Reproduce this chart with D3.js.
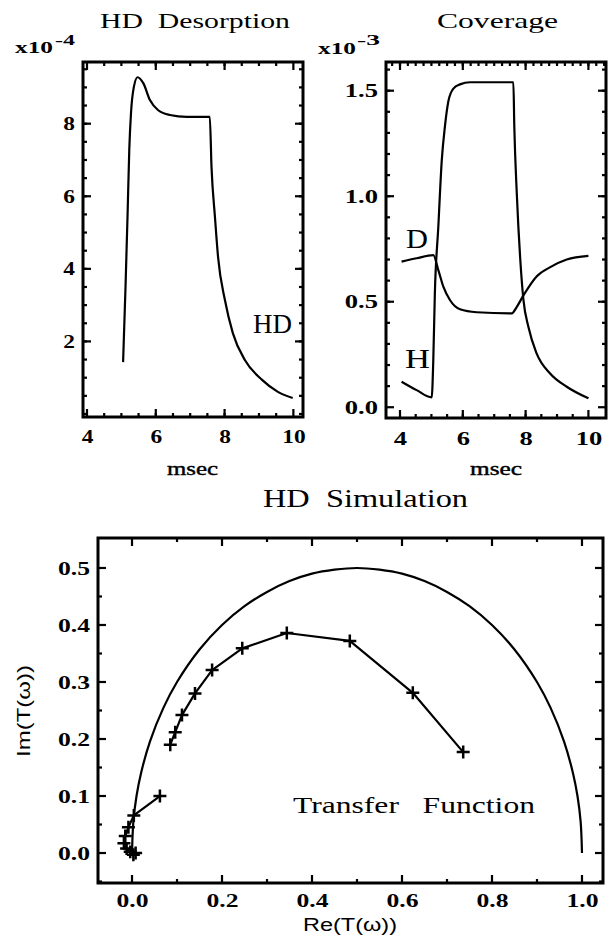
<!DOCTYPE html>
<html>
<head>
<meta charset="utf-8">
<script src="https://cdn.jsdelivr.net/npm/d3@7"></script>
<style>
body{margin:0;background:#fff;}
</style>
</head>
<body>
<script>
// HD desorption rate (x10^-4) vs time (msec)
const hdTime=[5.05,5.12,5.18,5.23,5.28,5.36,5.47,5.64,5.83,6.07,6.41,6.9,7.57,7.62,7.72,7.81,8.01,8.24,8.59,9.09,9.55,9.98];
const hdRate=[1.43,3.5,5.5,7.3,8.3,9.0,9.28,9.11,8.65,8.37,8.24,8.19,8.19,6.81,5.43,4.33,3.14,2.23,1.49,0.94,0.61,0.44];

// coverage (x10^-3) vs time
const hTime=[4.05,4.53,5.01,5.06,5.11,5.22,5.33,5.43,5.54,5.7,5.91,6.23,7.61,7.64,7.72,7.83,7.93,8.09,8.35,8.78,9.31,10.0];
const hCov=[0.121,0.081,0.047,0.224,0.54,0.855,1.17,1.33,1.45,1.51,1.53,1.54,1.54,1.33,1.01,0.70,0.51,0.38,0.255,0.16,0.097,0.042];
const dTime=[4.05,4.53,5.06,5.22,5.38,5.59,5.91,6.44,7.56,7.72,7.93,8.35,8.8,9.31,10.0];
const dCov=[0.69,0.706,0.721,0.65,0.571,0.508,0.464,0.45,0.445,0.476,0.53,0.62,0.665,0.70,0.717];

// transfer function, crosses
const tfRe=[0.085,0.096,0.111,0.140,0.178,0.245,0.344,0.484,0.624,0.736];
const tfIm=[0.190,0.212,0.242,0.280,0.321,0.359,0.386,0.372,0.281,0.177];
const tfLowRe=[0.062,0.004,-0.008,-0.015,-0.018,-0.012,-0.004,0.003,0.008];
const tfLowIm=[0.100,0.066,0.045,0.030,0.017,0.008,0.002,-0.003,0.0];

// outer arc
const arcRe=[0.0,0.003,0.01,0.02,0.04,0.07,0.1,0.15,0.2,0.25,0.3,0.35,0.4,0.45,0.5,0.55,0.6,0.65,0.7,0.75,0.8,0.85,0.9,0.93,0.96,0.98,0.99,0.997,1.0];
const arcIm=[0.0,0.055,0.10,0.14,0.196,0.255,0.30,0.357,0.40,0.433,0.458,0.477,0.49,0.497,0.5,0.497,0.49,0.477,0.458,0.433,0.40,0.357,0.30,0.255,0.196,0.14,0.10,0.055,0.0];

const timeTicks=[4,6,8,10];
const hdTicks=[2,4,6,8];
const covTicks=[0,0.5,1.0,1.5];
const reTicks=[0,0.2,0.4,0.6,0.8,1.0];
const imTicks=[0,0.1,0.2,0.3,0.4,0.5];

const serif="'Liberation Serif','Times New Roman',serif";
const sans="'Liberation Sans',Arial,sans-serif";

const svg=d3.select("body").append("svg")
  .attr("width",612).attr("height",943)
  .style("background","#fff");

function range(a,b,s){const r=[];for(let i=0;a+i*s<=b+1e-9;i++)r.push(+(a+i*s).toFixed(4));return r;}

function label(x,y,str,size,len,opts){
  opts=opts||{};
  const t=svg.append("text")
    .attr("x",x).attr("y",y)
    .attr("font-family",opts.font||serif)
    .attr("font-size",size)
    .attr("font-weight",opts.weight||"normal")
    .attr("text-anchor",opts.anchor||"start")
    .style("white-space","pre")
    .text(str);
  if(len) t.attr("textLength",len).attr("lengthAdjust","spacingAndGlyphs");
  if(opts.stroke) t.attr("stroke","#000").attr("stroke-width",opts.stroke);
  if(opts.rotate) t.attr("transform","rotate(-90,"+x+","+y+")");
  return t;
}

// box, inward ticks on four sides, labels from d3 axes
function frame(x,y,o){
  const [l,r]=x.range(), [b,t]=y.range();
  const sx=o.stretch;
  const fx=o.fmtX||(d=>d), fy=o.fmtY||(d=>d);

  const box=d3.path();
  box.rect(l,t,r-l,b-t);
  svg.append("path").attr("d",box.toString())
    .attr("fill","none").attr("stroke","#000").attr("stroke-width",3);

  const gb=svg.append("g").attr("transform","translate(0,"+b+")")
    .call(d3.axisBottom(x).tickValues(o.xMajor).tickSize(0).tickPadding(o.padX).tickFormat(fx));
  const gl=svg.append("g").attr("transform","translate("+l+",0)")
    .call(d3.axisLeft(y).tickValues(o.yMajor).tickSize(0).tickPadding(8/sx).tickFormat(fy));
  [gb,gl].forEach(g=>{
    g.select(".domain").remove();
    g.selectAll(".tick line").remove();
    g.selectAll(".tick text")
      .attr("font-family",serif).attr("font-size",o.fs).attr("font-weight","bold")
      .attr("fill","#000").attr("transform","scale("+sx+",1)");
  });

  // ticks as small filled bars: [x, y, width, height]
  const w=2.2, ticks=[];
  const vt=(px,py,len)=>ticks.push([px-w/2,Math.min(py,py+len),w,Math.abs(len)]);
  const ht=(px,py,len)=>ticks.push([Math.min(px,px+len),py-w/2,Math.abs(len),w]);
  o.xMajor.forEach(v=>{vt(x(v),b,-8);vt(x(v),t,8);});
  o.xMinor.forEach(v=>vt(x(v),b,-4));
  (o.xMinorTop||o.xMinor).forEach(v=>vt(x(v),t,4));
  o.yMajor.forEach(v=>{ht(l,y(v),8);ht(r,y(v),-8);});
  o.yMinor.forEach(v=>{ht(l,y(v),4);ht(r,y(v),-4);});
  svg.append("g").selectAll("rect").data(ticks).enter().append("rect")
    .attr("x",d=>d[0]).attr("y",d=>d[1])
    .attr("width",d=>d[2]).attr("height",d=>d[3])
    .attr("fill","#000");
}

function curve(x,y,xs,ys,c){
  const pts=xs.map((v,i)=>[v,ys[i]]);
  svg.append("path").datum(pts)
    .attr("d",d3.line().x(d=>x(d[0])).y(d=>y(d[1])).curve(c||d3.curveMonotoneX))
    .attr("fill","none").attr("stroke","#000").attr("stroke-width",2.2)
    .attr("stroke-linejoin","round");
}

//panel A: HD desorption
const xA=d3.scaleLinear().domain([3.884,10.28]).range([83,303]);
const yA=d3.scaleLinear().domain([-0.083,9.70]).range([417,62]);
frame(xA,yA,{xMajor:timeTicks,xMinor:range(4.5,9.5,0.5),yMajor:hdTicks,yMinor:range(0,9.5,0.5),
  fs:18,stretch:1.3,padX:13});
curve(xA,yA,hdTime,hdRate);

//panel B: coverage
const xB=d3.scaleLinear().domain([3.554,10.56]).range([386,606]);
const yB=d3.scaleLinear().domain([-0.051,1.636]).range([418,62]);
frame(xB,yB,{xMajor:timeTicks,xMinor:range(4.5,9.5,0.5),xMinorTop:range(3.75,10.5,0.25),yMajor:covTicks,yMinor:range(0.1,1.6,0.1),
  fs:19,stretch:1.4,padX:13.5,fmtY:d3.format(".1f")});
curve(xB,yB,hTime,hCov);
curve(xB,yB,dTime,dCov);

//panel C: transfer function
const xC=d3.scaleLinear().domain([-0.0756,1.0467]).range([98,603]);
const yC=d3.scaleLinear().domain([-0.0526,0.5526]).range([883,538]);
frame(xC,yC,{xMajor:reTicks,xMinor:[0.1,0.3,0.5,0.7,0.9],yMajor:imTicks,yMinor:[-0.05,0.05,0.15,0.25,0.35,0.45],
  fs:19,stretch:1.35,padX:10.5,fmtX:d3.format(".1f"),fmtY:d3.format(".1f")});
curve(xC,yC,arcRe,arcIm,d3.curveCatmullRom);
curve(xC,yC,tfRe,tfIm,d3.curveLinear);
curve(xC,yC,tfLowRe,tfLowIm,d3.curveLinear);
const plus=d3.symbol().type(d3.symbolPlus).size(57);
const marks=tfRe.map((v,i)=>[v,tfIm[i]]).concat(tfLowRe.map((v,i)=>[v,tfLowIm[i]]));
svg.append("g").selectAll("path").data(marks).enter().append("path")
  .attr("d",plus)
  .attr("transform",d=>"translate("+xC(d[0])+","+yC(d[1])+")")
  .attr("fill","none").attr("stroke","#000").attr("stroke-width",2.5);

//titles and labels
label(100,28,"HD  Desorption",22,190);
label(437,28,"Coverage",22,121);
label(15,53,"x10",17,38,{weight:"bold"});
label(55,45,"-4",15,20,{weight:"bold"});
label(318,54,"x10",17,38,{weight:"bold"});
label(357,45,"-3",15,23,{weight:"bold"});
label(167,475,"msec",18,51,{stroke:0.4});
label(470,475,"msec",18,52,{stroke:0.4});
label(253,333,"HD",28,39);
label(406,248,"D",28,22);
label(405,368,"H",28,25);
label(263,507,"HD  Simulation",26,205);
label(293,813,"Transfer   Function",24,242);
label(303,931,"Re(T(\u03c9))",18,94,{font:sans});
label(30,757,"Im(T(\u03c9))",19,92,{font:sans,rotate:true});
</script>
</body>
</html>
